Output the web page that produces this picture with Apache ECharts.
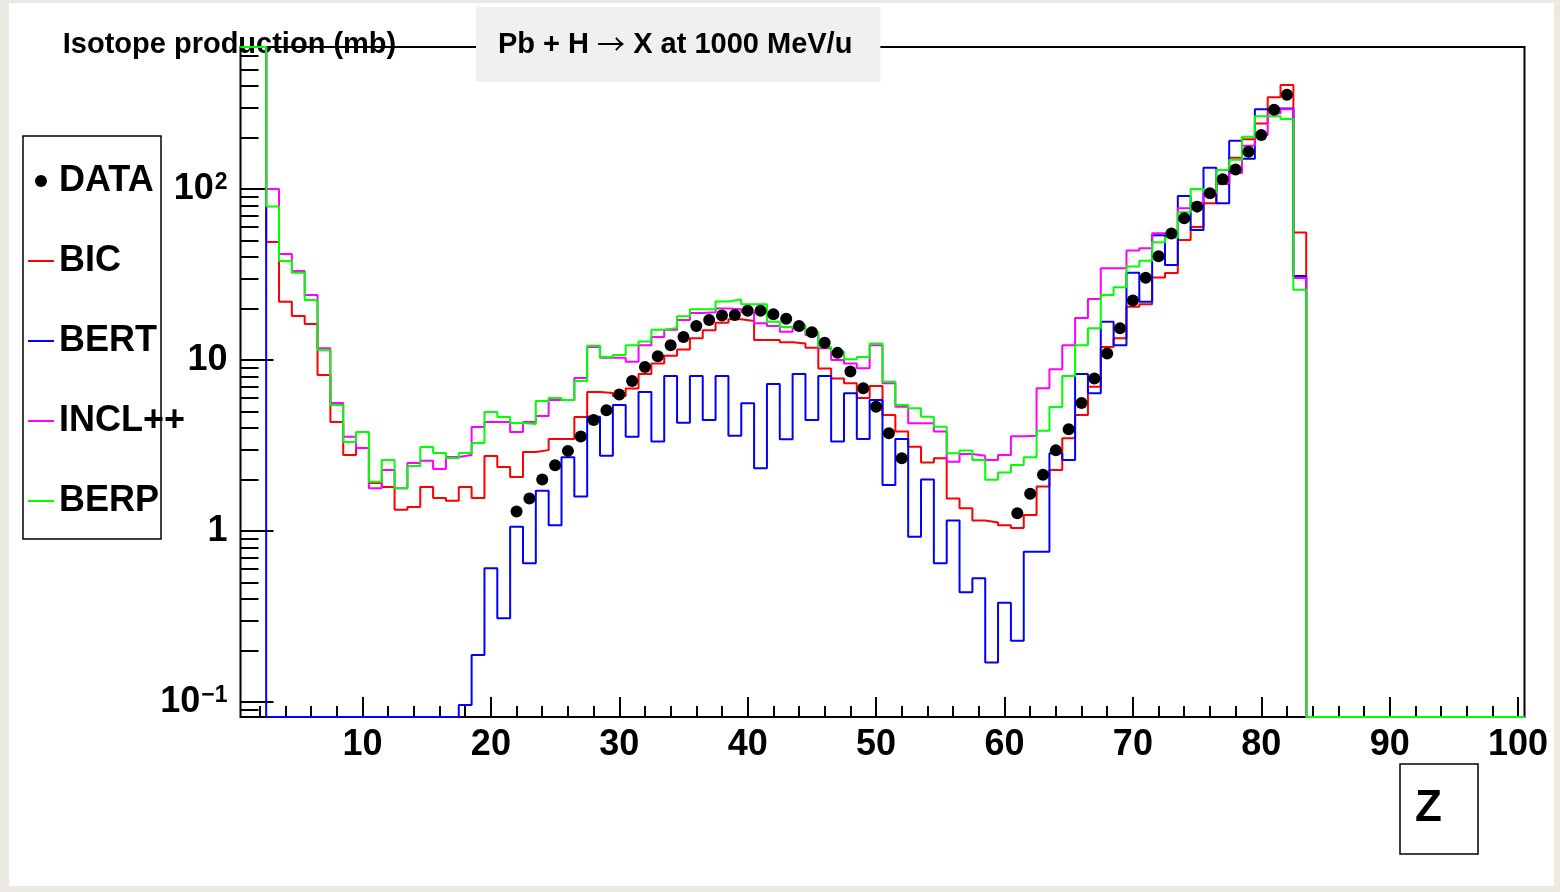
<!DOCTYPE html>
<html>
<head>
<meta charset="utf-8">
<script src="https://cdn.jsdelivr.net/npm/echarts@6/dist/echarts.min.js"></script>
<style>
html,body{margin:0;padding:0;background:#ebe9e2;}
#chart{width:1560px;height:892px;}
</style>
</head>
<body>
<div id="chart"></div>
<script>
// ---------- axis ranges & ticks ----------
const X_MIN = 0.5, X_MAX = 100.5;
const Y_MIN = 0.0817, Y_MAX = 676;
const FIRST_BIN_Z = 1;
const xMajorTicks = [10,20,30,40,50,60,70,80,90,100];
const xMinorTicks = [2,4,6,8,12,14,16,18,22,24,26,28,32,34,36,38,42,44,46,48,52,54,56,58,62,64,66,68,72,74,76,78,82,84,86,88,92,94,96,98];
const yMajorTicks = [0.1,1,10,100];
const yMinorTicks = [0.09,0.2,0.3,0.4,0.5,0.6,0.7,0.8,0.9,2,3,4,5,6,7,8,9,20,30,40,50,60,70,80,90,200,300,400,500,600];

// ---------- measured data (DATA points) ----------
const dataZ = [22,23,24,25,26,27,28,29,30,31,32,33,34,35,36,37,38,39,40,41,42,43,44,45,46,47,48,49,50,51,52,
               61,62,63,64,65,66,67,68,69,70,71,72,73,74,75,76,77,78,79,80,81,82];
const dataValues = [1.30,1.55,2.00,2.42,2.94,3.57,4.46,5.08,6.28,7.54,9.10,10.5,12.2,13.6,15.8,17.1,18.2,18.3,19.4,19.4,18.5,17.4,15.8,14.5,12.6,11.0,8.57,6.83,5.33,3.73,2.66,
                    1.27,1.65,2.13,2.96,3.93,5.61,7.79,10.9,15.3,22.3,30.2,40.4,54.9,67.4,78.8,94.4,114,130,165,207,290,355];

// ---------- model histograms, bins Z = 1..100 ----------
const bicValues = [1000,1000,49,21.9,18.1,16.2,8.17,4.34,2.78,3.06,
 1.91,1.81,1.33,1.38,1.81,1.56,1.50,1.81,1.56,2.74,
 2.37,2.07,2.90,2.97,3.45,3.45,4.64,6.5,6.4,6.16,
 6.8,8.27,9.53,10.6,11.5,13.4,14.9,16.5,17.3,16.9,
 13.1,13.1,12.7,12.5,11.8,8.9,7.8,7.3,6.0,7.05,
 4.77,3.81,3.11,2.51,2.66,1.55,1.36,1.15,1.12,1.08,
 1.04,1.24,1.82,2.27,3.49,4.77,6.98,11.9,13.4,20.5,
 21.2,30.3,32.2,50.3,60,82.6,107,152,195,241,
 344,405,55.7,0,0,0,0,0,0,0,
 0,0,0,0,0,0,0,0,0,0];
const bertValues = [1000,1000,0,0,0,0,0,0,0,0,
 0,0,0,0,0,0,0,0.096,0.188,0.605,
 0.309,1.06,0.647,1.72,1.08,2.70,1.59,4.66,2.75,5.45,
 3.56,6.5,3.33,8.06,4.3,8.06,4.46,8.06,3.6,5.58,
 2.33,7.24,3.44,8.28,4.46,8.06,3.33,6.38,3.45,5.83,
 1.86,3.45,0.926,2.0,0.647,1.15,0.438,0.529,0.17,0.38,
 0.228,0.757,0.757,2.85,2.6,8.27,6.38,16.7,12.2,32.4,
 21.9,53.6,35.9,90.9,57.6,133,82.6,191,150,292,
 295,295,31,0,0,0,0,0,0,0,
 0,0,0,0,0,0,0,0,0,0];
const inclValues = [1000,1000,100,41.7,33.1,24.0,11.7,5.6,3.55,3.06,
 1.78,2.27,1.78,2.50,2.57,2.30,2.71,2.78,4.06,4.34,
 4.34,3.79,4.34,4.70,5.83,5.83,7.84,11.9,10.3,10.3,
 9.77,12.2,13.6,15.0,17.1,18.8,19.0,20.0,19.8,19.0,
 16.4,15.8,14.6,15.4,14.0,11.7,10.0,9.53,8.94,12.2,
 7.31,5.33,4.26,4.26,3.81,2.54,2.82,2.75,2.6,2.78,
 3.58,3.6,6.83,8.83,12.2,17.6,22.7,34.4,34.4,43.6,
 45,55,55,77,83,94.5,108,124,179,207,
 277,292,30.1,0,0,0,0,0,0,0,
 0,0,0,0,0,0,0,0,0,0];
const berpValues = [1000,1000,79,37.9,32.3,22.4,11.4,5.45,3.31,3.79,
 1.94,2.60,1.78,2.40,3.10,2.86,2.67,2.86,3.27,4.97,
 4.64,4.28,4.22,5.75,5.99,5.83,7.54,12.1,10.4,10.7,
 12.2,12.8,15.0,15.4,18.0,19.8,19.8,22.0,22.6,21.2,
 21.2,16.7,15.6,16.0,14.5,11.9,11.2,10.1,10.4,12.5,
 7.46,5.45,5.22,4.66,4.07,2.85,2.95,2.6,1.99,2.2,
 2.43,2.7,3.86,5.3,8.06,12.2,15.3,24.0,26.6,35.2,
 38,48.8,52,73,100,96,129,148,202,266,
 266,256,25.7,0,0,0,0,0,0,0,
 0,0,0,0,0,0,0,0,0,0];

const FONT = "'Liberation Sans', Arial, Helvetica, sans-serif";

// histogram outline: each bin drawn from its lower to its upper edge
function histPoints(values) {
  const pts = [];
  values.forEach((v, i) => {
    const z = FIRST_BIN_Z + i;
    let y = v;
    if (!(y > Y_MIN)) y = Y_MIN;      // empty bins sit on the frame floor (like ROOT)
    if (y > Y_MAX) y = Y_MAX;          // off-scale bins run along the frame top
    pts.push([z - 0.5, y], [z + 0.5, y]);
  });
  return pts;
}

function histSeries(name, color, values) {
  return {
    name, type: 'line', data: histPoints(values),
    xAxisIndex: 0, yAxisIndex: 0,
    showSymbol: false, symbol: 'none', clip: true,
    lineStyle: { color, width: 2, opacity: 1 }, itemStyle: { color, opacity: 1 },
    emphasis: { disabled: true }, silent: true
  };
}

const LINE_ICON = 'path://M0,0h26v2h-26z';

const chart = echarts.init(document.getElementById('chart'), null, { renderer: 'canvas' });
chart.setOption({
  animation: false,
  backgroundColor: '#ebe9e2',
  textStyle: { fontFamily: FONT },
  title: [
    {
      text: 'Pb + H {a|\u2192} X at 1000 MeV/u',
      left: 476, top: 7,
      padding: [23, 28, 23, 22],
      backgroundColor: '#f0f0f0',
      textStyle: {
        fontFamily: FONT, fontSize: 29, fontWeight: 'bold', color: '#000',
        rich: { a: { fontFamily: "'Noto Sans CJK SC', 'DejaVu Sans', sans-serif", fontSize: 28, fontWeight: 'normal', color: '#000' } }
      }
    },
    {
      text: 'Z',
      left: 1400, top: 764,
      padding: [23, 36, 23, 15],
      borderColor: '#000', borderWidth: 1.5,
      textStyle: { fontFamily: FONT, fontSize: 44, fontWeight: 'bold', color: '#000' }
    }
  ],
  graphic: [
    { type: 'rect', z: -10, silent: true,
      shape: { x: 9, y: 3, width: 1545, height: 883 },
      style: { fill: '#ffffff' } },
    { type: 'rect', z: 1, silent: true,
      shape: { x: 23, y: 136, width: 138, height: 403 },
      style: { fill: '#ffffff', stroke: '#000', lineWidth: 1.5 } }
  ],
  legend: {
    orient: 'vertical', left: 28, top: 163, padding: 0,
    itemWidth: 26, itemHeight: 12, itemGap: 44,
    selectedMode: false,
    textStyle: { fontFamily: FONT, fontSize: 36, fontWeight: 'bold', color: '#000' },
    data: [
      { name: 'DATA', icon: 'circle', itemStyle: { color: '#000', opacity: 1 } },
      { name: 'BIC', icon: LINE_ICON },
      { name: 'BERT', icon: LINE_ICON },
      { name: 'INCL++', icon: LINE_ICON },
      { name: 'BERP', icon: LINE_ICON }
    ]
  },
  grid: {
    left: 240.5, right: 35.5, top: 47, bottom: 175,
    show: true, borderColor: '#000', borderWidth: 2, backgroundColor: 'transparent',
    containLabel: false, outerBoundsMode: 'none'
  },
  xAxis: [
    {
      type: 'value', min: X_MIN, max: X_MAX, position: 'bottom',
      axisLine: { show: false }, splitLine: { show: false },
      axisTick: { show: true, inside: true, length: 20, customValues: xMajorTicks, lineStyle: { color: '#000', width: 2 } },
      axisLabel: { show: true, customValues: xMajorTicks, margin: 10, color: '#000',
                   fontFamily: FONT, fontSize: 36, fontWeight: 'bold', showMinLabel: true, showMaxLabel: true }
    },
    {
      type: 'value', min: X_MIN, max: X_MAX, position: 'bottom',
      axisLine: { show: false }, splitLine: { show: false },
      axisTick: { show: true, inside: true, length: 11, customValues: xMinorTicks, lineStyle: { color: '#000', width: 2 } },
      axisLabel: { show: false }
    }
  ],
  yAxis: [
    {
      type: 'log', logBase: 10, min: Y_MIN, max: Y_MAX, position: 'left',
      name: 'Isotope production (mb)', nameLocation: 'end', nameGap: 2, nameMoveOverlap: false,
      nameTextStyle: { fontFamily: FONT, fontSize: 29, fontWeight: 'bold', color: '#000',
                       align: 'center', verticalAlign: 'middle', padding: [0, 22, 0, 0] },
      axisLine: { show: false }, splitLine: { show: false },
      axisTick: { show: true, inside: true, length: 33, customValues: yMajorTicks, lineStyle: { color: '#000', width: 2 } },
      axisLabel: {
        show: true, customValues: yMajorTicks, margin: 13, color: '#000',
        formatter: function (v) {
          const e = Math.round(Math.log10(v));
          if (e === 0) return '{b|1}';
          if (e === 1) return '{b|10}';
          return '{b|10}{s|' + (e < 0 ? '\u2212' + (-e) : e) + '}';
        },
        rich: {
          b: { fontFamily: FONT, fontSize: 36, fontWeight: 'bold', color: '#000' },
          s: { fontFamily: FONT, fontSize: 23, fontWeight: 'bold', color: '#000', verticalAlign: 'top', padding: [0, 0, 8, 1] }
        }
      }
    },
    {
      type: 'log', logBase: 10, min: Y_MIN, max: Y_MAX, position: 'left',
      axisLine: { show: false }, splitLine: { show: false },
      axisTick: { show: true, inside: true, length: 18, customValues: yMinorTicks, lineStyle: { color: '#000', width: 2 } },
      axisLabel: { show: false }
    }
  ],
  series: [
    {
      name: 'DATA', type: 'scatter', xAxisIndex: 0, yAxisIndex: 0,
      data: dataZ.map((z, i) => [z, dataValues[i]]),
      symbol: 'circle', symbolSize: 12, itemStyle: { color: '#000', opacity: 1 }, z: 3,
      emphasis: { disabled: true }, silent: true
    },
    histSeries('BIC', '#ff0000', bicValues),
    histSeries('BERT', '#0000ff', bertValues),
    histSeries('INCL++', '#ff00ff', inclValues),
    histSeries('BERP', '#00ff00', berpValues)
  ]
});
</script>
</body>
</html>
